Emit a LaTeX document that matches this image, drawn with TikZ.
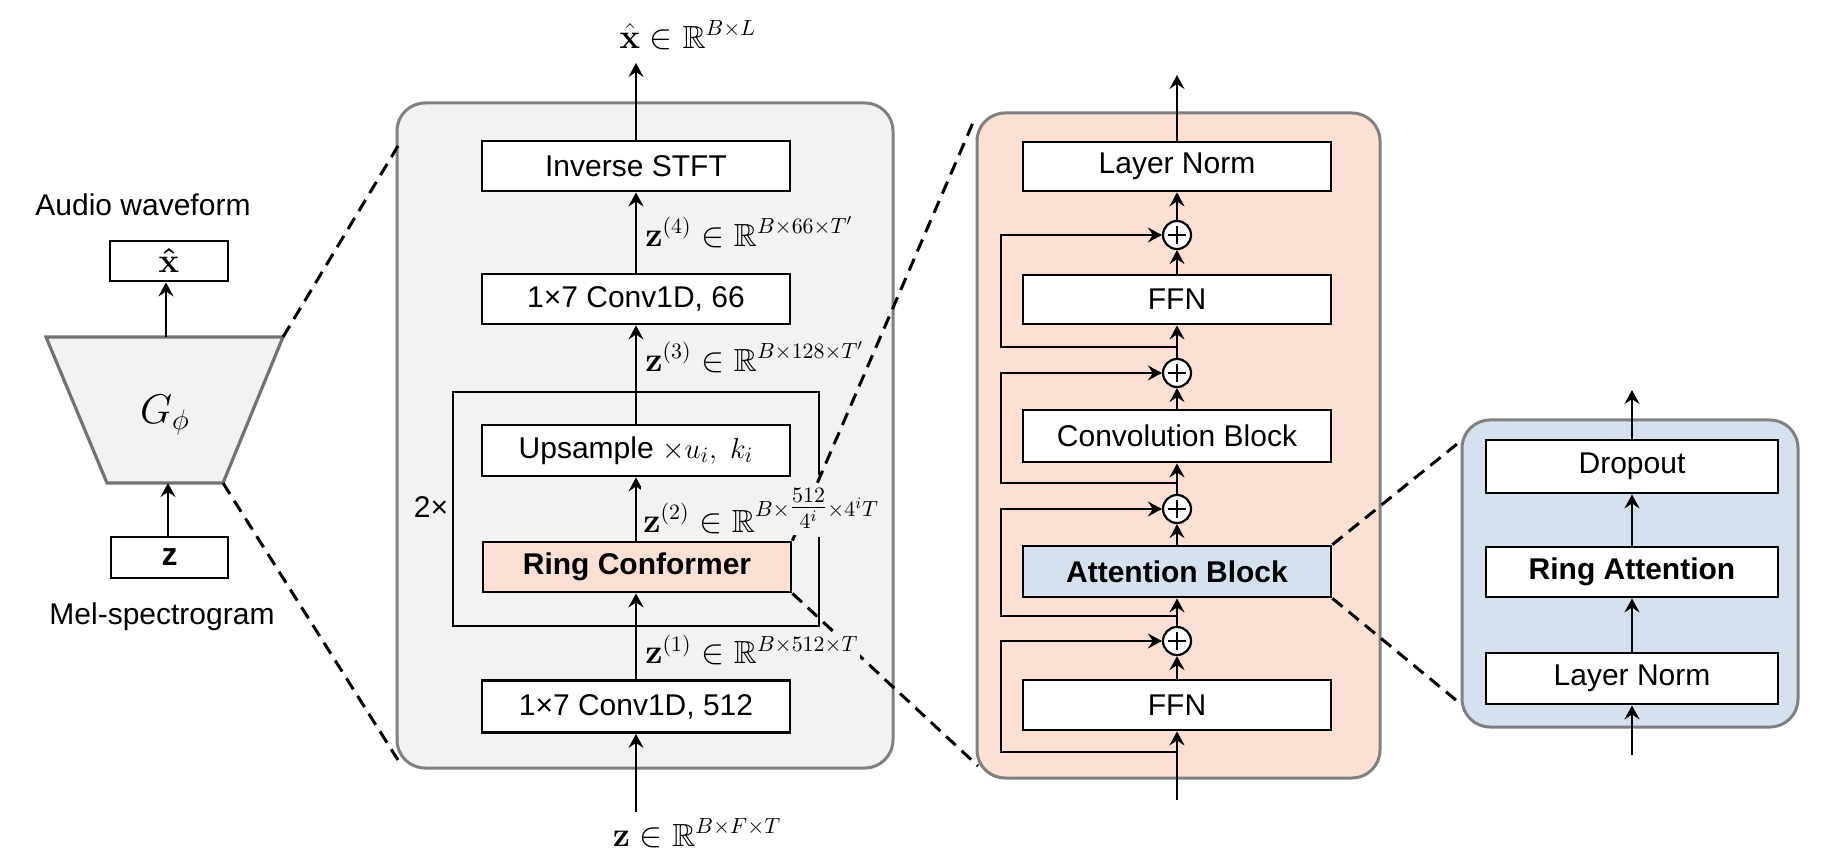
\documentclass[tikz,border=0pt]{standalone}
\usepackage{amsmath,amssymb,bm}
\usepackage[no-math]{fontspec}
\setmainfont{Liberation Sans}
\usetikzlibrary{arrows.meta}
\definecolor{panelgray}{RGB}{242,242,242}
\definecolor{bordergray}{RGB}{128,128,128}
\definecolor{peach}{RGB}{251,224,211}
\definecolor{lblue}{RGB}{214,225,240}
\begin{document}
\begin{tikzpicture}[x=0.5pt,y=-0.5pt, font=\fontsize{15}{18}\selectfont,
 box/.style={draw=black, line width=1.4pt, fill=white, inner sep=0pt, minimum width=154pt, minimum height=25pt},
 arr/.style={-{Stealth[length=7pt,width=7.5pt,inset=2.5pt]}, line width=1.1pt},
 ln/.style={line width=1.1pt},
 panel/.style={draw=bordergray, line width=1.5pt, rounded corners=14pt},
 zoomline/.style={line width=1.5pt, dash pattern=on 6.5pt off 4pt},
 plusnode/.style={circle, draw, line width=1.1pt, fill=white, minimum size=14pt, inner sep=0pt},
 lbl/.style={inner sep=1pt, anchor=west, fill=panelgray, font=\fontsize{16}{19}\selectfont},
 mlbl/.style={font=\fontsize{16}{19}\selectfont}
]
\useasboundingbox (0,0) rectangle (1822,866);

% ---------- panels ----------
\draw[panel, fill=panelgray] (397,103) rectangle (893,768);
\draw[panel, fill=peach] (977,113) rectangle (1380,778);
\draw[panel, fill=lblue] (1462,420) rectangle (1798,727);

% ---------- left: generator ----------
\node (aw) at (143,205) {Audio waveform};
\node (mel) at (162,617) {Mel-spectrogram};
\draw[draw=bordergray!90!black, line width=1.6pt, fill=panelgray]
  (46,337) -- (283,337) -- (223,483) -- (107,483) -- cycle;
\coordinate (gtr) at (283,337);
\coordinate (gbr) at (223,483);
\coordinate (gtop) at (166,337);
\coordinate (gbot) at (168,483);
\node (gen) at (165,415) {\fontsize{21}{24}\selectfont $G_\phi$};
\node[box, minimum width=59pt, minimum height=20pt, font=\fontsize{18}{20}\selectfont] (xh) at (169,261) {$\bm{\hat{\mathbf{x}}}$};
\node[box, minimum width=58.5pt, minimum height=20.5pt, font=\fontsize{16}{19}\selectfont] (zb) at (169.5,557.5) {\textbf{z}};
\draw[arr] (gtop) -- (gtop |- xh.south);
\draw[arr] (gbot |- zb.north) -- (gbot);

% ---------- middle column ----------
\node[box] (inv) at (636,166) {Inverse STFT};
\node[box] (c66) at (636,299) {1×7 Conv1D, 66};
\node[box, minimum height=25.5pt] (ups) at (636,450.5) {Upsample $\times u_i,\ k_i$};
\node[box, fill=peach] (rc) at (637,567) {\bfseries Ring Conformer};
\node[box, minimum height=26pt] (c512) at (636,706.5) {1×7 Conv1D, 512};
\coordinate (inM) at (636,812);
\coordinate (outM) at (636,63);
\draw[line width=1.4pt] (819,475) -- (819,392) -- (453,392) -- (453,626) -- (819,626) -- (819,537);
\node (rep) at (431,507) {2×};
\draw[arr] (inM) -- (c512);
\draw[arr] (c512) -- (rc.south -| c512);
\draw[arr] (rc.north -| c512) -- (ups);
\draw[arr] (ups) -- (c66);
\draw[arr] (c66) -- (inv);
\draw[arr] (inv) -- (outM);

% ---------- zoom lines ----------
\coordinate (mtl) at (398,146);
\coordinate (mbl) at (398,760);
\coordinate (ptl) at (975,118);
\coordinate (pbl) at (978,766);
\coordinate (btl) at (1462,440);
\coordinate (bbl) at (1462,705);
\draw[zoomline] (gtr) -- (mtl);
\draw[zoomline] (gbr) -- (mbl);
\draw[zoomline] (rc.north east) -- (ptl);
\draw[zoomline] (rc.south east) -- (pbl);

% ---------- middle labels ----------
\node[lbl] (l4) at (643,232) {$\mathbf{z}^{(4)}\in\mathbb{R}^{B\times 66\times T'}$};
\node[lbl] (l3) at (643,357) {$\mathbf{z}^{(3)}\in\mathbb{R}^{B\times 128\times T'}$};
\node[lbl] (l2) at (641,511) {$\mathbf{z}^{(2)}\in\mathbb{R}^{B\times\genfrac{}{}{}{1}{512}{4^i}\times 4^iT}$};
\node[lbl] (l1) at (643,650) {$\mathbf{z}^{(1)}\in\mathbb{R}^{B\times 512\times T}$};
\node[mlbl] (xout) at (688,35) {$\hat{\mathbf{x}}\in\mathbb{R}^{B\times L}$};
\node[mlbl] (zin) at (697,833) {$\mathbf{z}\in\mathbb{R}^{B\times F\times T}$};

% ---------- conformer column ----------
\node[box, minimum height=24.5pt] (ln1) at (1177,166.5) {Layer Norm};
\node[box, minimum height=24.5pt] (ffn1) at (1177,299.5) {FFN};
\node[box, minimum height=26pt] (conv) at (1177,436) {Convolution Block};
\node[box, fill=lblue, minimum height=25.5pt] (att) at (1177,571.5) {\bfseries Attention Block};
\node[box] (ffn2) at (1177,705) {FFN};
\node[plusnode] (p1) at (1177,235) {};
\node[plusnode] (p2) at (1177,373) {};
\node[plusnode] (p3) at (1177,509) {};
\node[plusnode] (p4) at (1177,641) {};
\foreach \p in {p1,p2,p3,p4}{
  \draw[line width=1.1pt] ([xshift=-4.5pt]\p.center) -- ([xshift=4.5pt]\p.center);
  \draw[line width=1.1pt] ([yshift=-4.5pt]\p.center) -- ([yshift=4.5pt]\p.center);
}
\coordinate (inP) at (1177,800);
\coordinate (outP) at (1177,75);
\coordinate (j1) at (1177,347);
\coordinate (j2) at (1177,483);
\coordinate (j3) at (1177,616);
\coordinate (j4) at (1177,752);
\coordinate (sx) at (1001,0);
\draw[arr] (inP) -- (ffn2);
\draw[arr] (ffn2) -- (p4);
\draw[arr] (p4) -- (att);
\draw[arr] (att) -- (p3);
\draw[arr] (p3) -- (conv);
\draw[arr] (conv) -- (p2);
\draw[arr] (p2) -- (ffn1);
\draw[arr] (ffn1) -- (p1);
\draw[arr] (p1) -- (ln1);
\draw[arr] (ln1) -- (outP);
\draw[arr] (j1) -- (sx |- j1) |- (p1);
\draw[arr] (j2) -- (sx |- j2) |- (p2);
\draw[arr] (j3) -- (sx |- j3) |- (p3);
\draw[arr] (j4) -- (sx |- j4) |- (p4);

% ---------- zoom lines to attention panel ----------
\draw[zoomline] (att.north east) -- (btl);
\draw[zoomline] (att.south east) -- (bbl);

% ---------- attention column ----------
\node[box, minimum width=146pt, minimum height=26.5pt] (drop) at (1632,466.5) {Dropout};
\node[box, minimum width=146pt] (ra) at (1632,572) {\bfseries Ring Attention};
\node[box, minimum width=146pt, minimum height=25.5pt] (ln2) at (1632,678.5) {Layer Norm};
\coordinate (inB) at (1632,755);
\coordinate (outB) at (1632,390);
\draw[arr] (inB) -- (ln2);
\draw[arr] (ln2) -- (ra);
\draw[arr] (ra) -- (drop);
\draw[arr] (drop) -- (outB);
\end{tikzpicture}
\end{document}
